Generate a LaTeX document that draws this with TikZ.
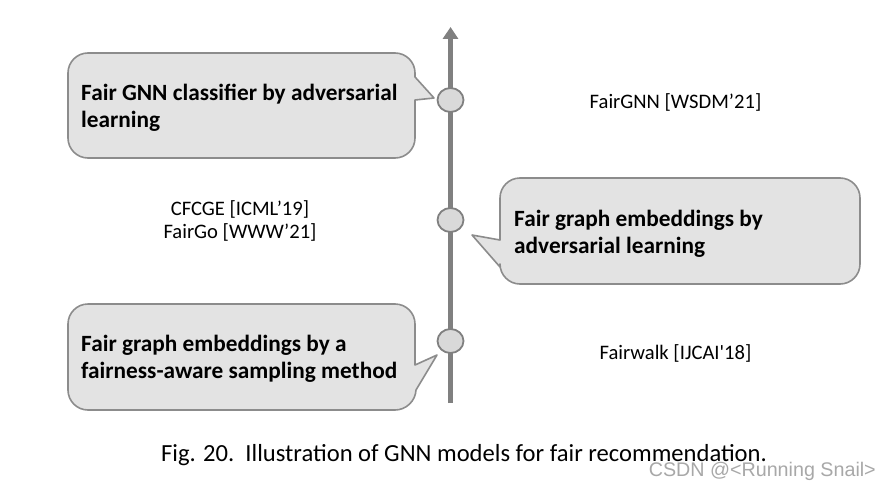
\documentclass[tikz,border=0pt]{standalone}
\usepackage{fontspec}
\setmainfont{Carlito}
\newfontfamily\capfont{Carlito}
\newfontfamily\wmfont{Liberation Sans}
\usetikzlibrary{arrows.meta,shapes.geometric}
\definecolor{axisgray}{HTML}{808080}
\definecolor{boxfill}{HTML}{E3E3E3}
\definecolor{boxline}{HTML}{8C8C8C}
\definecolor{dotfill}{HTML}{D9D9D9}
\definecolor{wmgray}{HTML}{A8A8A8}
\tikzset{
  callout/.style={draw=boxline, fill=boxfill, line width=1.6pt, line join=round},
  bubtext/.style={font=\fontsize{23.3}{27}\selectfont\bfseries, align=left, anchor=west, inner sep=0pt},
  reftext/.style={font=\fontsize{20.6}{23}\selectfont, align=center, inner sep=0pt},
  dot/.style={ellipse, draw=axisgray, fill=dotfill, line width=1.8pt, minimum width=26pt, minimum height=24pt, inner sep=0pt},
}
\begin{document}
\begin{tikzpicture}[x=1pt,y=-1pt]
\useasboundingbox (0,0) rectangle (890,492);
\fill[white] (0,0) rectangle (890,492);
% axis
\coordinate (axbot) at (450.5,403);
\coordinate (axtop) at (450.5,27);
\draw[axisgray, line width=5pt, -{Triangle[width=15pt,length=12pt]}] (axbot) -- (axtop);
% callout 1
\draw[callout, rounded corners=20pt] (200,53) -- (415,53) [sharp corners] -- (415,77) -- (434,98) -- (415,100)
  [rounded corners=20pt] -- (415,158) -- (68,158) -- (68,53) -- cycle;
% callout 2
\draw[callout, rounded corners=20pt] (680,178) -- (860,178) -- (860,284) -- (500,284) [sharp corners] -- (500,267)
  -- (472,235) -- (500,240) [rounded corners=20pt] -- (500,178) -- cycle;
% callout 3
\draw[callout, rounded corners=20pt] (200,304) -- (415,304) [sharp corners] -- (415,365) -- (437,355) -- (416,390)
  [rounded corners=20pt] -- (415,410) -- (68,410) -- (68,304) -- cycle;
% dots
\node[dot] (d1) at (450.5,100) {};
\node[dot] (d2) at (450.5,220) {};
\node[dot] (d3) at (450.5,341) {};
% bubble texts
\node[bubtext] (b1) at (81,108) {Fair GNN classifier by adversarial\\learning};
\node[bubtext] (b2) at (514,234) {Fair graph embeddings by\\adversarial learning};
\node[bubtext] (b3) at (81,359) {Fair graph embeddings by a\\fairness-aware sampling method};
% reference labels
\node[reftext] (r1) at (675.5,102) {FairGNN [WSDM’21]};
\node[reftext] (r2) at (240,221) {CFCGE [ICML’19]\\FairGo [WWW’21]};
\node[reftext] (r3) at (675.5,353) {Fairwalk [IJCAI\textquotesingle18]};
% caption
\node[font=\capfont\fontsize{24.6}{28}\selectfont, inner sep=0pt] (cap) at (464,455) {Fig. 20.\ \ Illustration of GNN models for fair recommendation.};
\node[font=\wmfont\fontsize{19.7}{22}\selectfont, text=wmgray, inner sep=0pt, anchor=east] (wm) at (876,471) {CSDN @<Running Snail>};
\end{tikzpicture}
\end{document}
